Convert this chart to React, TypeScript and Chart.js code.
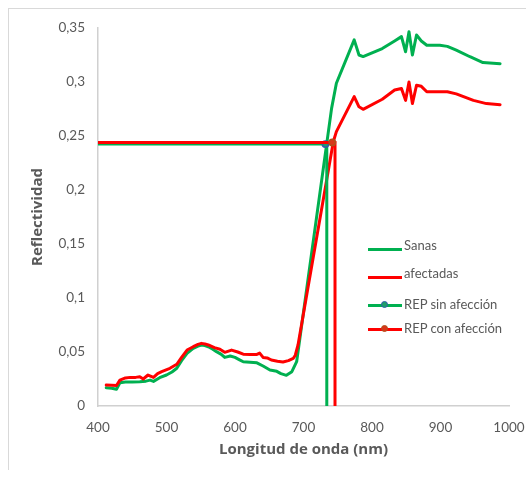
import React, { useEffect, useRef } from "react";
import { Chart, registerables } from "chart.js";

Chart.register(...registerables);

// Sanas (green)
const sanasWavelength = [
  412, 420, 427, 432, 440, 450, 461, 470, 476, 481, 490, 500, 508, 515, 522, 530, 539, 546, 551, 556,
  561, 567, 573, 580, 585, 593, 600, 606, 612, 622, 632, 641, 651, 661, 667, 675, 683, 690, 741, 748,
  774, 781, 787, 815, 833, 843, 849, 854, 859, 865, 872, 880, 899, 910, 923, 943, 962, 987,
];
const sanasReflectance = [
  0.017, 0.0165, 0.0155, 0.0215, 0.0222, 0.0222, 0.0225, 0.023, 0.024, 0.0228, 0.0262, 0.0287, 0.0315,
  0.0349, 0.042, 0.0488, 0.0534, 0.0555, 0.0565, 0.056, 0.0549, 0.0528, 0.0503, 0.0478, 0.045, 0.0463,
  0.045, 0.043, 0.041, 0.0405, 0.04, 0.037, 0.0333, 0.0321, 0.03, 0.0284, 0.0318, 0.041, 0.2756, 0.2988,
  0.339, 0.325, 0.3235, 0.331, 0.338, 0.342, 0.328, 0.3466, 0.325, 0.3435, 0.338, 0.334, 0.334, 0.333,
  0.3296, 0.3234, 0.318, 0.317,
];

// afectadas (red)
const afectadasWavelength = [
  412, 420, 427, 432, 440, 447, 455, 461, 466, 473, 481, 487, 493, 505, 515, 522, 530, 539, 546, 551,
  556, 561, 570, 578, 585, 595, 604, 612, 622, 632, 636, 641, 647, 653, 662, 670, 678, 685, 688, 692,
  743.5, 748, 774, 781, 787, 815, 833, 843, 849, 854, 859, 865, 872, 880, 899, 910, 923, 948, 967, 987,
];
const afectadasReflectance = [
  0.0194, 0.0192, 0.019, 0.024, 0.026, 0.0265, 0.0265, 0.027, 0.025, 0.0287, 0.0265, 0.03, 0.0318,
  0.0349, 0.0386, 0.045, 0.0518, 0.0549, 0.057, 0.058, 0.0575, 0.0565, 0.054, 0.0525, 0.0497, 0.0518,
  0.05, 0.048, 0.0478, 0.0478, 0.049, 0.045, 0.0445, 0.0426, 0.0415, 0.0407, 0.042, 0.044, 0.047, 0.0565,
  0.2447, 0.254, 0.2864, 0.277, 0.2747, 0.284, 0.2926, 0.294, 0.283, 0.3, 0.28, 0.297, 0.296, 0.291,
  0.291, 0.291, 0.289, 0.283, 0.28, 0.279,
];

// REP lines
const repSinWavelength = [400, 732, 734, 734];
const repSinReflectance = [0.2425, 0.2425, 0.2425, 0];
const repConWavelength = [400, 742, 746, 746];
const repConReflectance = [0.244, 0.244, 0.244, 0];
const repMarkerRadius = [0, 3.2, 0, 0];

const xTicks = [400, 500, 600, 700, 800, 900, 1000];
const yTicks = [0, 0.05, 0.1, 0.15, 0.2, 0.25, 0.3, 0.35];

const seriesNames = ["Sanas", "afectadas", "REP sin afección", "REP con afección"];

const GREEN = "#00b050";
const RED = "#ff0000";
const TEXT = "#595959";
const FONT = "Lato, 'Open Sans', sans-serif";
const TITLE_FONT = "'Open Sans', Lato, sans-serif";

const toXY = (xs: number[], ys: number[]) => xs.map((x, i) => ({ x, y: ys[i] }));
const fmt = (v: number) => String(Math.round(v * 1000) / 1000).replace(".", ",");

export default function App() {
  const ref = useRef<HTMLCanvasElement>(null);

  useEffect(() => {
    if (!ref.current) return;
    const chart = new Chart(ref.current, {
      type: "line",
      data: {
        datasets: [
          {
            label: seriesNames[0],
            data: toXY(sanasWavelength, sanasReflectance),
            borderColor: GREEN,
            borderWidth: 3,
            pointRadius: 0,
            tension: 0,
            borderJoinStyle: "round",
            borderCapStyle: "round",
            order: 4,
          },
          {
            label: seriesNames[1],
            data: toXY(afectadasWavelength, afectadasReflectance),
            borderColor: RED,
            borderWidth: 3,
            pointRadius: 0,
            tension: 0,
            borderJoinStyle: "round",
            borderCapStyle: "round",
            order: 3,
          },
          {
            label: seriesNames[2],
            data: toXY(repSinWavelength, repSinReflectance),
            borderColor: GREEN,
            borderWidth: 3,
            pointRadius: repMarkerRadius,
            pointBackgroundColor: "#1f9e6a",
            pointBorderColor: "#2e5da8",
            pointBorderWidth: 1.5,
            tension: 0,
            order: 2,
          },
          {
            label: seriesNames[3],
            data: toXY(repConWavelength, repConReflectance),
            borderColor: RED,
            borderWidth: 3,
            pointRadius: repMarkerRadius,
            pointBackgroundColor: "#d9361a",
            pointBorderColor: "#b0501c",
            pointBorderWidth: 1.5,
            tension: 0,
            order: 1,
          },
        ],
      },
      options: {
        animation: false,
        responsive: false,
        maintainAspectRatio: false,
        layout: { padding: { top: 19, right: 17, left: 0, bottom: 0 } },
        plugins: { legend: { display: false }, tooltip: { enabled: false } },
        scales: {
          x: {
            type: "linear",
            min: xTicks[0],
            max: xTicks[xTicks.length - 1],
            afterBuildTicks: (s: any) => {
              s.ticks = xTicks.map((v) => ({ value: v }));
            },
            ticks: {
              color: TEXT,
              font: { family: FONT, size: 13.5 },
              padding: 6,
              callback: (v: any) => String(v),
            },
            grid: { display: false },
            border: { display: true, color: "#d0d0d0", width: 1.5 },
            title: {
              display: true,
              text: "Longitud de onda (nm)",
              color: TEXT,
              font: { family: TITLE_FONT, size: 15, weight: "bold" },
              padding: { top: 0, bottom: 11 },
            },
            afterFit: (s: any) => {
              s.height = 64;
              s.paddingLeft = 0;
              s.paddingRight = 0;
            },
          },
          y: {
            type: "linear",
            min: yTicks[0],
            max: yTicks[yTicks.length - 1],
            afterBuildTicks: (s: any) => {
              s.ticks = yTicks.map((v) => ({ value: v }));
            },
            ticks: {
              color: TEXT,
              font: { family: FONT, size: 13.5 },
              padding: 5,
              callback: (v: any) => fmt(Number(v)),
            },
            grid: { display: false },
            border: { display: true, color: "#d0d0d0", width: 1.5 },
            title: {
              display: true,
              text: "Reflectividad",
              color: TEXT,
              font: { family: TITLE_FONT, size: 15, weight: "bold" },
              padding: { top: 20, bottom: 0 },
            },
            afterFit: (s: any) => {
              s.width = 89;
              s.paddingTop = 0;
              s.paddingBottom = 0;
            },
          },
        },
      },
    } as any);
    return () => chart.destroy();
  }, []);

  const legendItems = [
    { name: seriesNames[0], color: GREEN, lineTop: 238.5, textTop: 228, marker: null as null | { fill: string; stroke: string } },
    { name: seriesNames[1], color: RED, lineTop: 266.5, textTop: 256, marker: null },
    { name: seriesNames[2], color: GREEN, lineTop: 294.5, textTop: 287, marker: { fill: "#1f9e6a", stroke: "#2e5da8" } },
    { name: seriesNames[3], color: RED, lineTop: 318.5, textTop: 311, marker: { fill: "#d9361a", stroke: "#b0501c" } },
  ];

  return (
    <div
      style={{
        position: "absolute",
        left: 8,
        top: 8,
        width: 518,
        height: 462,
        boxSizing: "border-box",
        borderTop: "1px solid #d9d9d9",
        borderLeft: "1px solid #d9d9d9",
      }}
    >
      <canvas ref={ref} width={517} height={461} style={{ display: "block" }} />
      {legendItems.map((it) => (
        <React.Fragment key={it.name}>
          <div
            style={{
              position: "absolute",
              left: 359,
              top: it.lineTop,
              width: 34,
              height: 3,
              background: it.color,
            }}
          />
          {it.marker && (
            <div
              style={{
                position: "absolute",
                left: 372,
                top: it.lineTop - 2.5,
                width: 5,
                height: 5,
                borderRadius: "50%",
                background: it.marker.fill,
                border: `1.5px solid ${it.marker.stroke}`,
              }}
            />
          )}
          <div
            style={{
              position: "absolute",
              left: 395,
              top: it.textTop,
              fontFamily: FONT,
              fontSize: 13,
              lineHeight: "16px",
              color: TEXT,
              whiteSpace: "nowrap",
            }}
          >
            {it.name}
          </div>
        </React.Fragment>
      ))}
    </div>
  );
}
